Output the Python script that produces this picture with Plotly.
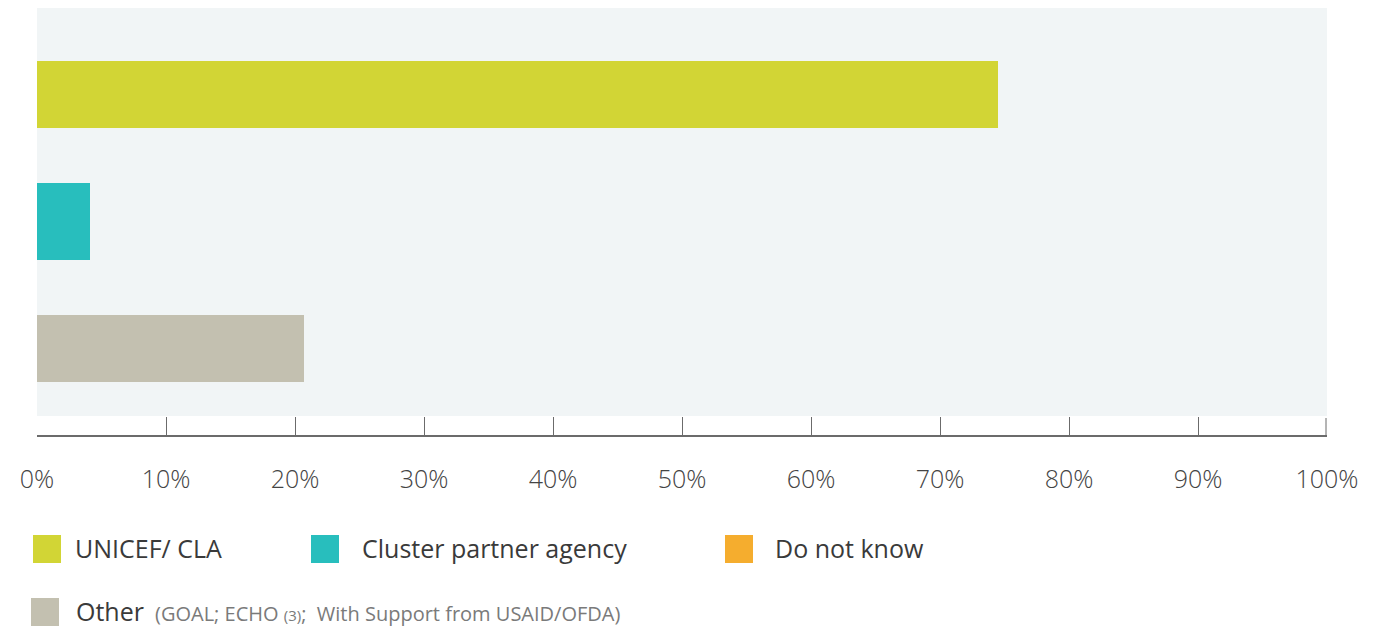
import plotly.graph_objects as go

# Share of responses by lead agency (percent)
categories = ["UNICEF/ CLA", "Cluster partner agency", "Other"]
values = [74.5, 4.1, 20.7]
bar_widths = [0.53, 0.61, 0.53]
colors = ["#D2D535", "#28BEBD", "#C3C0B0"]

legend_labels = ["UNICEF/ CLA", "Cluster partner agency", "Do not know", "Other"]
legend_colors = ["#D2D535", "#28BEBD", "#F5AD2E", "#C3C0B0"]
other_note = "(GOAL; ECHO <span style='font-size:15px'>(3)</span>;  With Support from USAID/OFDA)"

W, H = 1373, 627
L, R, T, B = 37, 1327, 8, 435  # plot area in pixels


def px(x):
    return (x - L) / (R - L)


def py(y):
    return (B - y) / (B - T)


fig = go.Figure()
for cat, val, wd, col in zip(categories, values, bar_widths, colors):
    fig.add_trace(go.Bar(
        x=[val], y=[cat], orientation="h", width=wd,
        marker=dict(color=col, line=dict(width=0)),
        hoverinfo="x+y", showlegend=False,
    ))

shapes = [
    # light panel behind the bars
    dict(type="rect", xref="paper", yref="paper", x0=0, x1=1, y0=py(416), y1=1,
         fillcolor="#F1F5F6", line=dict(width=0), layer="below"),
    # closing tick at the right end of the axis
    dict(type="line", xref="paper", yref="paper", x0=px(1326), x1=px(1326),
         y0=py(437), y1=py(418), line=dict(color="#6B6B6B", width=1)),
]
annotations = []

font_main = "Open Sans, Lato, Arial, sans-serif"
# (swatch left, row centre, label left)
legend_pos = [(33, 549, 75), (311, 549, 362), (725, 549, 775), (31, 612, 76)]
for (lx, ly, tx), lab, col in zip(legend_pos, legend_labels, legend_colors):
    shapes.append(dict(type="rect", xref="paper", yref="paper",
                       x0=px(lx), x1=px(lx + 28), y0=py(ly + 14), y1=py(ly - 14),
                       fillcolor=col, line=dict(width=0)))
    annotations.append(dict(xref="paper", yref="paper", x=px(tx - 2), y=py(ly - 1.5),
                            text=lab, showarrow=False, xanchor="left", yanchor="middle",
                            font=dict(family=font_main, size=25, weight=400, color="#3A3A3A")))

annotations.append(dict(xref="paper", yref="paper", x=px(153), y=py(613),
                        text=other_note, showarrow=False, xanchor="left", yanchor="middle",
                        font=dict(family=font_main, size=20, weight=400, color="#7A7A7A")))

fig.update_layout(
    width=W, height=H,
    margin=dict(l=L, r=W - R, t=T, b=H - B, pad=0),
    paper_bgcolor="white", plot_bgcolor="white",
    barmode="overlay", bargap=0,
    showlegend=False,
    shapes=shapes, annotations=annotations,
    xaxis=dict(range=[0, 100], dtick=10, ticksuffix="%", showgrid=False, zeroline=False,
               showline=True, linecolor="#6B6B6B", linewidth=1.5,
               ticks="inside", ticklen=18, tickwidth=1, tickcolor="#6B6B6B",
               ticklabelstandoff=21,
               tickfont=dict(family=font_main, size=25, weight=300, color="#444444"),
               fixedrange=True),
    yaxis=dict(categoryorder="array", categoryarray=categories,
               range=[2.68, -0.68], showticklabels=False, showgrid=False,
               zeroline=False, showline=False, ticks="", fixedrange=True),
)

fig.write_html("out.html")
